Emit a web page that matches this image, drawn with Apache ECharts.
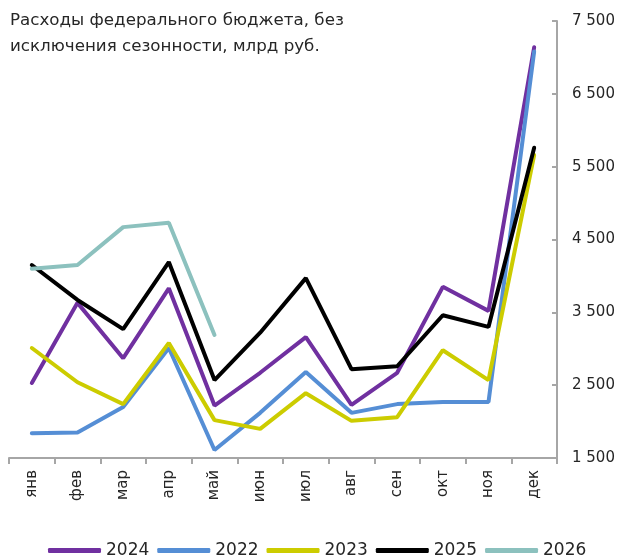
<!DOCTYPE html>
<html>
<head>
<meta charset="utf-8">
<script src="https://cdn.jsdelivr.net/npm/echarts@6/dist/echarts.min.js"></script>
<style>
  html, body { margin: 0; padding: 0; background: #fff; }
  #chart { width: 622px; height: 559px; }
</style>
</head>
<body>
<div id="chart"></div>
<script>
var months = ['янв', 'фев', 'мар', 'апр', 'май', 'июн', 'июл', 'авг', 'сен', 'окт', 'ноя', 'дек'];

var y2024 = [2530, 3630, 2870, 3830, 2220, 2670, 3160, 2230, 2670, 3850, 3520, 7140];
var y2022 = [1840, 1850, 2200, 3010, 1610, 2120, 2680, 2120, 2240, 2270, 2270, 7080];
var y2023 = [3010, 2540, 2240, 3080, 2020, 1900, 2390, 2010, 2060, 2980, 2570, 5660];
var y2025 = [4150, 3670, 3270, 4190, 2570, 3220, 3970, 2720, 2760, 3460, 3300, 5760];
var y2026 = [4100, 4150, 4670, 4730, 3190];

var yTicks = [1500, 2500, 3500, 4500, 5500, 6500, 7500];

document.addEventListener('DOMContentLoaded', function () {
    var chartDom = document.getElementById('chart');
    var myChart = echarts.init(chartDom);
    var font = 'DejaVu Sans';

    function line(name, data, color) {
        return {
            name: name,
            type: 'line',
            data: data,
            symbol: 'none',
            lineStyle: { width: 4, color: color, cap: 'round' },
            itemStyle: { color: color }
        };
    }

    var option = {
        animation: false,
        title: {
            text: 'Расходы федерального бюджета, без\nисключения сезонности, млрд руб.',
            left: 5,
            top: 3,
            textStyle: {
                fontFamily: font,
                fontSize: 16.7,
                fontWeight: 'normal',
                color: '#262626',
                lineHeight: 26
            }
        },
        legend: {
            bottom: -5,
            left: 43,
            icon: 'roundRect',
            itemWidth: 53,
            itemHeight: 5,
            itemGap: 8,
            textStyle: { fontFamily: font, fontSize: 17, color: '#262626' },
            data: ['2024', '2022', '2023', '2025', '2026']
        },
        grid: {
            left: 9,
            right: 65,
            top: 21,
            bottom: 101
        },
        xAxis: {
            type: 'category',
            data: months,
            boundaryGap: true,
            axisLine: { lineStyle: { color: '#A6A6A6', width: 2 } },
            axisTick: { show: true, length: 6, lineStyle: { color: '#A6A6A6', width: 2 } },
            axisLabel: {
                rotate: 90,
                interval: 0,
                margin: 12,
                fontFamily: font,
                fontSize: 15,
                color: '#262626'
            }
        },
        yAxis: {
            type: 'value',
            position: 'right',
            min: yTicks[0],
            max: yTicks[yTicks.length - 1],
            interval: 1000,
            splitLine: { show: false },
            axisLine: { show: true, lineStyle: { color: '#A6A6A6', width: 2 } },
            axisTick: { show: true, inside: true, length: 5, lineStyle: { color: '#A6A6A6', width: 2 } },
            axisLabel: {
                margin: 15,
                fontFamily: font,
                fontSize: 15,
                color: '#262626',
                formatter: function (v) {
                    return String(v).replace(/\B(?=(\d{3})+(?!\d))/g, ' ');
                }
            }
        },
        series: [
            line('2024', y2024, '#7030A0'),
            line('2022', y2022, '#558ED5'),
            line('2023', y2023, '#CCCC00'),
            line('2025', y2025, '#000000'),
            line('2026', y2026, '#8CC1BE')
        ]
    };

    option && myChart.setOption(option);
});
</script>
</body>
</html>
